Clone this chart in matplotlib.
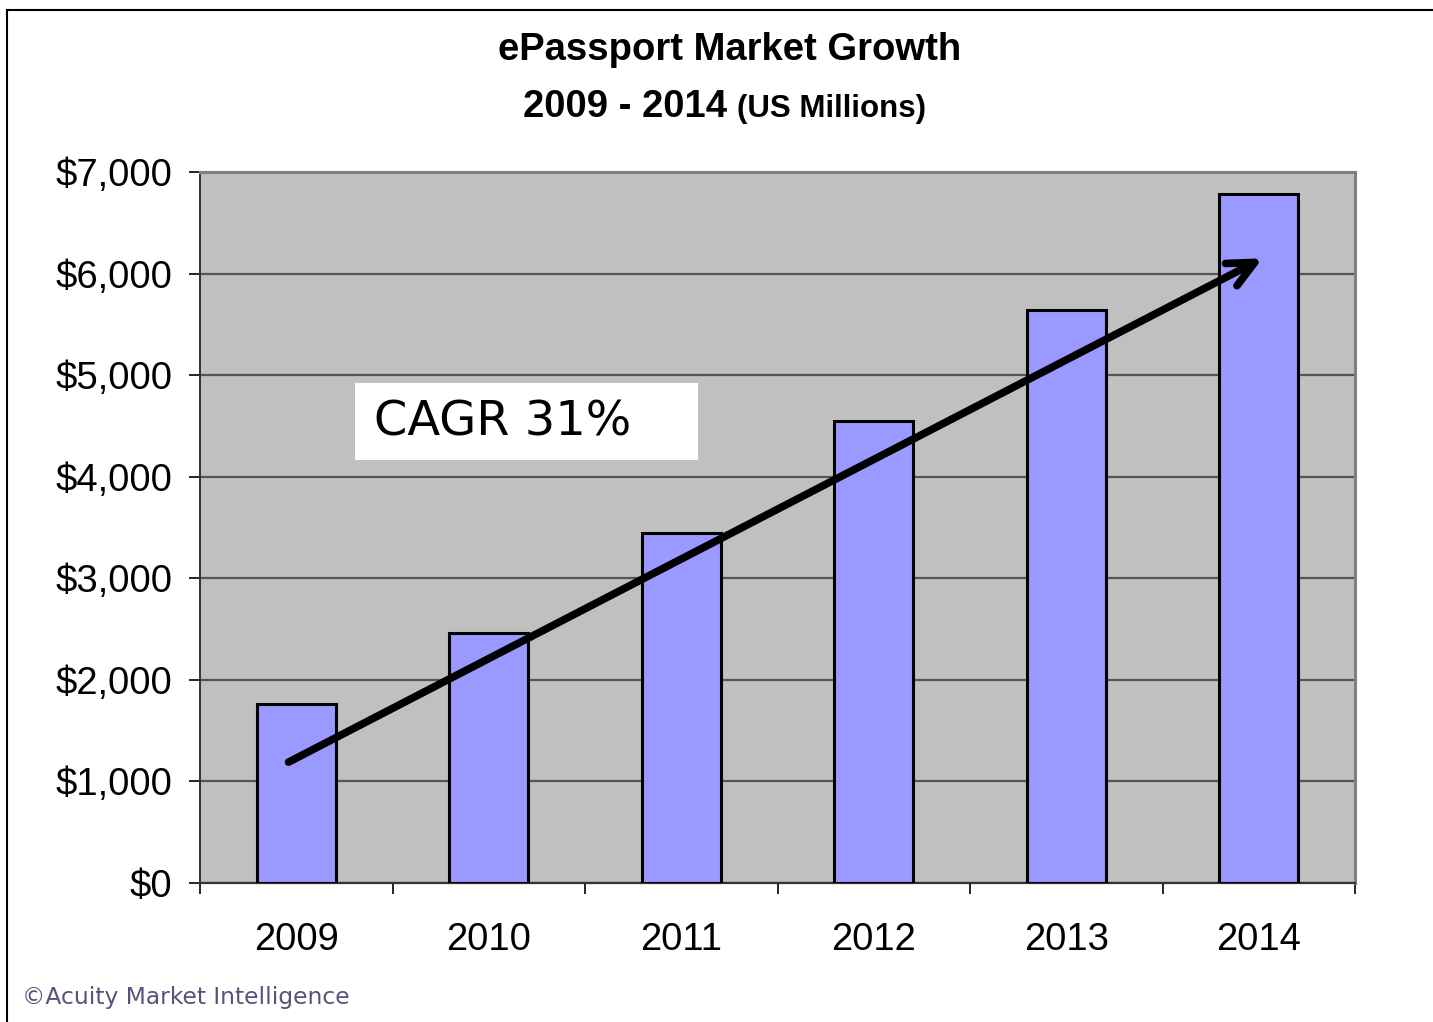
import matplotlib.pyplot as plt
from matplotlib.patches import Rectangle

years = ["2009", "2010", "2011", "2012", "2013", "2014"]
market = [1760, 2460, 3450, 4550, 5640, 6780]
y_ticks = [0, 1000, 2000, 3000, 4000, 5000, 6000, 7000]
y_labels = ["$0", "$1,000", "$2,000", "$3,000", "$4,000", "$5,000", "$6,000", "$7,000"]

plt.rcParams['font.family'] = ['Liberation Sans', 'DejaVu Sans']

fig = plt.figure(figsize=(14.33, 10.22), dpi=100)
ax = fig.add_axes([200 / 1433, 139 / 1022, 1155 / 1433, 711 / 1022])
ax.set_facecolor('#C0C0C0')

x = list(range(len(years)))
ax.bar(x, market, width=0.41, color='#9999FF', edgecolor='black', linewidth=2.2, zorder=3)

ax.set_xlim(-0.5, len(years) - 0.5)
ax.set_ylim(0, 7000)
ax.set_yticks(y_ticks)
ax.set_yticklabels(y_labels, fontsize=27.5)
ax.set_xticks(x)
ax.set_xticklabels(years, fontsize=27.5)
ax.set_xticks([i - 0.5 for i in range(len(years) + 1)], minor=True)
ax.tick_params(axis='x', which='major', length=0, pad=28)
ax.tick_params(axis='x', which='minor', length=8, width=1.2, direction='out')
ax.tick_params(axis='y', length=8, width=1.2, pad=12)
ax.yaxis.grid(True, color='#555555', linewidth=1.6, zorder=1)
ax.set_axisbelow(True)

ax.spines['top'].set_color('#808080')
ax.spines['right'].set_color('#808080')
ax.spines['top'].set_linewidth(2.2)
ax.spines['right'].set_linewidth(2.2)
ax.spines['left'].set_color('#333333')
ax.spines['bottom'].set_color('#333333')
ax.spines['left'].set_linewidth(1.4)
ax.spines['bottom'].set_linewidth(1.6)

# CAGR trend arrow
ax.annotate('', xy=(5.02, 6150), xytext=(-0.04, 1190),
            arrowprops=dict(arrowstyle='->, head_length=1.9, head_width=0.9',
                            lw=5.5, color='black', capstyle='round',
                            joinstyle='round', shrinkA=0, shrinkB=0),
            zorder=5)

# CAGR label box
ax.add_patch(Rectangle((0.134, 0.595), 0.297, 0.108, transform=ax.transAxes,
                       facecolor='white', edgecolor='none', zorder=4))
ax.text(0.151, 0.649, 'CAGR 31%', transform=ax.transAxes, fontsize=34.5,
        family='DejaVu Sans', va='center', ha='left', zorder=6)

# titles
fig.text(730 / 1433, 1 - 50 / 1022, 'ePassport Market Growth', fontsize=27.5,
         fontweight='bold', ha='center', va='center')
fig.text(727 / 1433, 1 - 107 / 1022, '2009 - 2014', fontsize=27.5,
         fontweight='bold', ha='right', va='center')
fig.text(737 / 1433, 1 - 109 / 1022, '(US Millions)', fontsize=22.5,
         fontweight='bold', ha='left', va='center')

fig.text(22 / 1433, 1 - 997 / 1022, '\u00a9Acuity Market Intelligence', fontsize=16.8,
         family='DejaVu Sans', color='#55557A', ha='left', va='center')

# outer frame
fig.add_artist(Rectangle((7 / 1433, -0.02), 1.05, 1 - 10 / 1022 + 0.02,
                         transform=fig.transFigure, fill=False,
                         edgecolor='black', linewidth=1.5, clip_on=False))

plt.savefig('out.png', dpi=100)
